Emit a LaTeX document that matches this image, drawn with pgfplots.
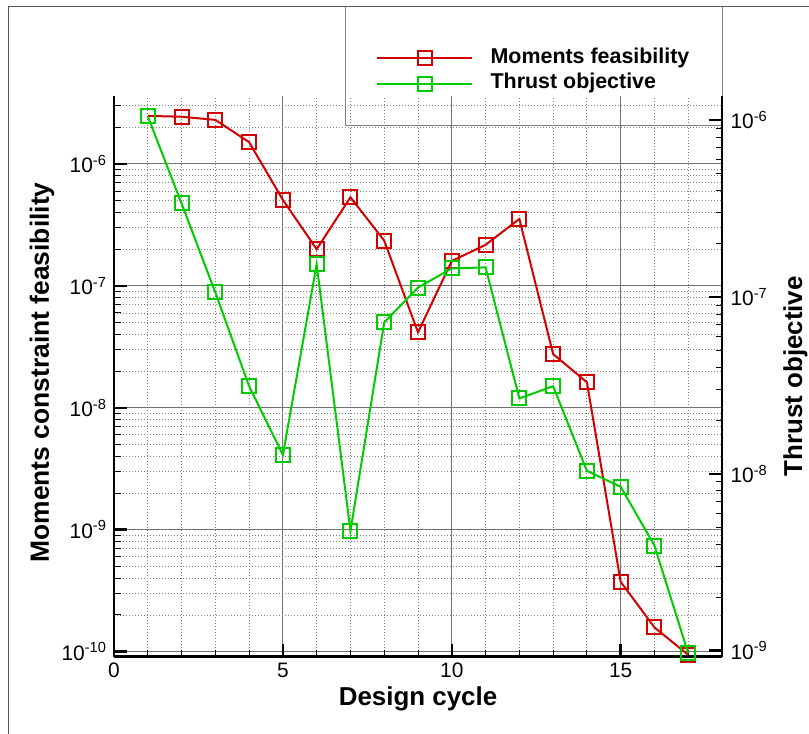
\documentclass[border=0pt]{standalone}
\usepackage{fontspec}
\setmainfont{Liberation Sans}
\usepackage{pgfplots}
\pgfplotsset{compat=1.18}

\definecolor{momred}{RGB}{210,0,0}
\definecolor{thrgreen}{RGB}{0,204,0}

% Convergence history: moments constraint feasibility (left axis)
\pgfplotstableread{
cycle feas
1  2.48e-6
2  2.44e-6
3  2.30e-6
4  1.51e-6
5  5.07e-7
6  2.00e-7
7  5.33e-7
8  2.35e-7
9  4.16e-8
10 1.60e-7
11 2.17e-7
12 3.54e-7
13 2.76e-8
14 1.62e-8
15 3.74e-10
16 1.58e-10
17 9.40e-11
}\momtable

% Thrust objective (right axis)
\pgfplotstableread{
cycle thrust
1  1.05e-6
2  3.38e-7
3  1.06e-7
4  3.13e-8
5  1.28e-8
6  1.53e-7
7  4.76e-9
8  7.18e-8
9  1.13e-7
10 1.45e-7
11 1.47e-7
12 2.67e-8
13 3.13e-8
14 1.04e-8
15 8.45e-9
16 3.93e-9
17 9.66e-10
}\thrtable

\pgfplotsset{
  twinaxis/.style={
    at={(114bp,77.3bp)}, anchor=south west,
    scale only axis, width=608bp, height=560.7bp,
    xmin=0, xmax=18,
    tick align=inside,
    axis line style={line width=2.5bp, black, -},
    major tick length=13bp, minor tick length=6.5bp,
    major tick style={line width=2.5bp, black},
    minor tick style={line width=1bp, black},
    tick label style={font=\fontsize{21}{24}\selectfont},
    clip=false,
  },
}
\tikzset{
  convline/.style={line width=2bp, mark=square, mark size=7bp,
    mark options={solid, line width=2bp}},
}

\begin{document}
\begin{tikzpicture}
\useasboundingbox (0,0) rectangle (809bp,734bp);
% page frame
\draw[line width=1bp, black!65] (8bp,0) -- (8bp,727bp) -- (809bp,727bp);
% legend frame
\draw[line width=1bp, black!50] (345bp,727bp) -- (345bp,608bp) -- (722bp,608bp) -- (722bp,727bp);

\begin{axis}[twinaxis, ymode=log,
  ymin=9.08e-11, ymax=3.61e-6,
  axis x line*=bottom, axis y line*=left,
  xtick={0,5,10,15}, xticklabels={0,5,10,15},
  xticklabel style={yshift=-3bp},
  yticklabel style={xshift=-4bp},
  minor xtick={1,2,3,4,6,7,8,9,11,12,13,14,16,17},
  ytick={1e-10,1e-9,1e-8,1e-7,1e-6},
  yticklabels={10\textsuperscript{-10},10\textsuperscript{-9},10\textsuperscript{-8},10\textsuperscript{-7},10\textsuperscript{-6}},
  minor ytick={2e-10,3e-10,4e-10,5e-10,6e-10,7e-10,8e-10,9e-10,
               2e-9,3e-9,4e-9,5e-9,6e-9,7e-9,8e-9,9e-9,
               2e-8,3e-8,4e-8,5e-8,6e-8,7e-8,8e-8,9e-8,
               2e-7,3e-7,4e-7,5e-7,6e-7,7e-7,8e-7,9e-7,
               2e-6,3e-6},
  grid=both,
  major grid style={line width=1bp, black!55, solid},
  minor grid style={line width=0.8bp, black!50, dash pattern=on 1bp off 2bp},
  xlabel={Design cycle},
  xlabel style={font=\bfseries\fontsize{26}{30}\selectfont,
    at={(axis description cs:0.5,-0.087)}, anchor=base},
  ylabel={Moments constraint feasibility},
  ylabel style={font=\bfseries\fontsize{26.5}{30}\selectfont,
    at={(axis description cs:-0.1070,0.507)}, anchor=base},
  legend style={draw=none, fill=none, inner sep=0pt, row sep=0pt,
    at={(axis description cs:0.6908,1.0447)}, anchor=center,
    font=\bfseries\fontsize{21.5}{26}\selectfont,
    nodes={inner sep=2.5bp, text height=15.5bp, text depth=5bp},
    /tikz/every odd column/.append style={column sep=15bp}},
  legend cell align=left,
  legend image code/.code={\draw[#1, mark repeat=2, mark phase=2]
    plot coordinates {(0bp,0bp) (47.5bp,0bp) (95bp,0bp)};},
]
\addplot[momred, convline] table[x=cycle, y=feas] {\momtable};
\addlegendentry{Moments feasibility}
\addlegendimage{thrgreen, convline}
\addlegendentry{Thrust objective}
\end{axis}

\begin{axis}[twinaxis, ymode=log,
  ymin=9.25e-10, ymax=1.368e-6,
  axis x line=none, axis y line*=right,
  yticklabel style={xshift=5bp},
  ytick={1e-9,1e-8,1e-7,1e-6},
  yticklabels={10\textsuperscript{-9},10\textsuperscript{-8},10\textsuperscript{-7},10\textsuperscript{-6}},
  minor ytick={2e-9,3e-9,4e-9,5e-9,6e-9,7e-9,8e-9,9e-9,
               2e-8,3e-8,4e-8,5e-8,6e-8,7e-8,8e-8,9e-8,
               2e-7,3e-7,4e-7,5e-7,6e-7,7e-7,8e-7,9e-7},
  ylabel={Thrust objective},
  ylabel style={font=\bfseries\fontsize{26}{30}\selectfont,
    at={(axis description cs:1.1316,0.5)}, anchor=base},
]
\addplot[thrgreen, convline] table[x=cycle, y=thrust] {\thrtable};
\end{axis}
\end{tikzpicture}
\end{document}
